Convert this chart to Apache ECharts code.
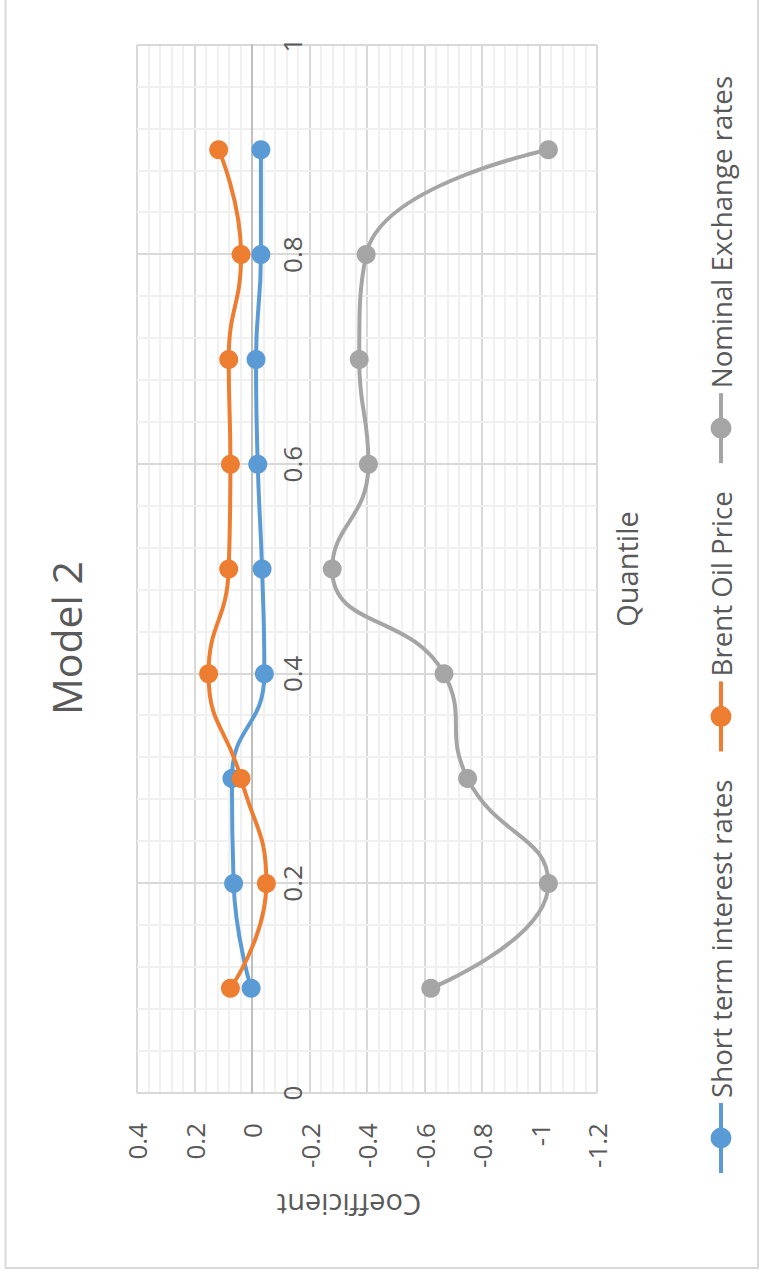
<!DOCTYPE html>
<html>
<head>
<meta charset="utf-8">
<script src="https://cdn.jsdelivr.net/npm/echarts@6/dist/echarts.min.js"></script>
<style>
  html, body { margin: 0; padding: 0; background: #fff; width: 767px; height: 1276px; overflow: hidden; }
  /* The chart is laid out landscape and turned a quarter turn counter-clockwise */
  #chart {
    position: absolute; left: 0; top: 0;
    width: 1276px; height: 767px;
    transform-origin: 0 0;
    transform: translate(0, 1276px) rotate(-90deg);
  }
</style>
</head>
<body>
<div id="chart"></div>
<script>
// Quantile regression coefficients, Model 2
const quantiles = [0.1, 0.2, 0.3, 0.4, 0.5, 0.6, 0.7, 0.8, 0.9];
const shortTermRates = [0.003, 0.064, 0.070, -0.043, -0.035, -0.020, -0.014, -0.031, -0.031];
const brentOilPrice = [0.075, -0.050, 0.038, 0.151, 0.081, 0.075, 0.081, 0.038, 0.116];
const nominalExchange = [-0.622, -1.031, -0.750, -0.668, -0.279, -0.405, -0.373, -0.397, -1.031];

const seriesNames = ['Short term interest rates', 'Brent Oil Price', 'Nominal Exchange rates'];
const seriesColors = ['#5B9BD5', '#ED7D31', '#A5A5A5'];

const quantileTicks = [0, 0.2, 0.4, 0.6, 0.8, 1];
const coefficientTicks = [-1.2, -1, -0.8, -0.6, -0.4, -0.2, 0, 0.2, 0.4];

const FONT = 'Open Sans';
const TEXT = '#595959';

const fmt = v => String(parseFloat(Number(v).toFixed(2)));

const chart = echarts.init(document.getElementById('chart'), null, { renderer: 'svg' });

function lineSeries(name, values, color) {
  return {
    name: name,
    type: 'line',
    smooth: true,
    symbol: 'circle',
    symbolSize: 19,
    data: quantiles.map((q, i) => [q, values[i]]),
    itemStyle: { color: color },
    lineStyle: { color: color, width: 4 },
    emphasis: { disabled: true }
  };
}

chart.setOption({
  animation: false,
  backgroundColor: '#fff',
  title: {
    text: 'Model 2',
    left: 'center',
    top: 40,
    textStyle: { fontFamily: FONT, fontSize: 41, fontWeight: 'normal', color: TEXT }
  },
  grid: { left: 183, right: 45, top: 137, bottom: 170, containLabel: false },
  xAxis: {
    type: 'value',
    min: quantileTicks[0],
    max: quantileTicks[quantileTicks.length - 1],
    interval: 0.2,
    axisLine: { show: true, onZero: false, lineStyle: { color: '#BFBFBF', width: 2 } },
    axisTick: { show: false },
    axisLabel: { color: TEXT, fontFamily: FONT, fontSize: 26, margin: 27, formatter: fmt },
    splitLine: { show: true, lineStyle: { color: '#D9D9D9', width: 2 } },
    minorTick: { show: false, splitNumber: 5 },
    minorSplitLine: { show: true, lineStyle: { color: '#F0F0F0', width: 2 } }
  },
  yAxis: {
    type: 'value',
    min: coefficientTicks[0],
    max: coefficientTicks[coefficientTicks.length - 1],
    interval: 0.2,
    axisLine: { show: false },
    axisTick: { show: false },
    axisLabel: { color: TEXT, fontFamily: FONT, fontSize: 26, margin: 30, formatter: fmt },
    splitLine: { show: true, lineStyle: { color: '#D9D9D9', width: 2 } },
    minorTick: { show: false, splitNumber: 5 },
    minorSplitLine: { show: true, lineStyle: { color: '#F0F0F0', width: 2 } }
  },
  legend: {
    data: seriesNames,
    left: 96,
    top: 702,
    itemWidth: 70,
    itemHeight: 26,
    itemGap: 26,
    lineStyle: { width: 4 },
    textStyle: { color: TEXT, fontFamily: FONT, fontSize: 27.7 }
  },
  graphic: [
    {
      type: 'rect',
      silent: true,
      shape: { x: 8, y: 5.5, width: 1300, height: 752.5 },
      style: { fill: 'none', stroke: '#D9D9D9', lineWidth: 2 }
    },
    {
      type: 'text',
      silent: true,
      x: 707, y: 626,
      style: { text: 'Quantile', fill: TEXT, font: '29px "Open Sans"', textAlign: 'center', textVerticalAlign: 'middle' }
    },
    {
      type: 'text',
      silent: true,
      x: 71, y: 349,
      rotation: Math.PI / 2,
      style: { text: 'Coefficient', fill: TEXT, font: '29px "Open Sans"', textAlign: 'center', textVerticalAlign: 'middle' }
    }
  ],
  series: [
    lineSeries(seriesNames[0], shortTermRates, seriesColors[0]),
    lineSeries(seriesNames[1], brentOilPrice, seriesColors[1]),
    lineSeries(seriesNames[2], nominalExchange, seriesColors[2])
  ]
});

// The quantile axis (with its labels) crosses the plot at coefficient 0
const zeroPx = chart.convertToPixel({ yAxisIndex: 0 }, 0);
const floorPx = chart.convertToPixel({ yAxisIndex: 0 }, coefficientTicks[0]);
chart.setOption({ xAxis: { offset: zeroPx - floorPx } });
</script>
</body>
</html>
